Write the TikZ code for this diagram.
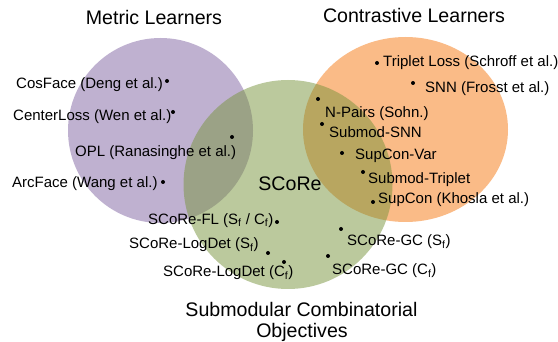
\documentclass[tikz,border=0pt]{standalone}
\usepackage{fontspec}
\setmainfont{Liberation Sans}
\definecolor{vpurple}{RGB}{128,100,162}
\definecolor{vorange}{RGB}{247,150,70}
\definecolor{vgreen}{RGB}{119,147,60}
\tikzset{
  setfill/.style={draw=none},
  lbl/.style={anchor=base west, inner sep=0pt, font=\fontsize{15}{18}\selectfont},
  ttl/.style={anchor=base, inner sep=0pt, font=\fontsize{19.6}{23}\selectfont},
  dot/.style={circle, fill=black, inner sep=0pt, minimum size=4pt},
}
\begin{document}
\begin{tikzpicture}[x=1pt,y=-1pt]
\useasboundingbox (0,0) rectangle (558,342);
% sets
\fill[vpurple, fill opacity=0.5] (160.5,130.5) circle[radius=92.5];
\fill[vorange, fill opacity=0.65] (405.5,129.5) ellipse[x radius=102.5, y radius=92.5];
\fill[vgreen, fill opacity=0.5] (288,184.5) circle[radius=104.5];
% titles
\node[ttl] (tm) at (154,25) {Metric Learners};
\node[ttl] (tc) at (414,23) {Contrastive Learners};
\node[ttl] (ts1) at (301.5,316.7) {Submodular Combinatorial};
\node[ttl] (ts2) at (302,338) {Objectives};
\node[ttl] (tsc) at (290,190.7) {SCoRe};
% metric learners
\node[lbl] (l1) at (16,88.3) {CosFace (Deng et al.)};
\node[dot] (d1) at (167,81) {};
\node[lbl] (l2) at (13,120.7) {CenterLoss (Wen et al.)};
\node[dot] (d2) at (173,112) {};
\node[lbl] (l3) at (75,156.7) {OPL (Ranasinghe et al.)};
\node[dot] (d3) at (232,137) {};
\node[lbl] (l4) at (12,187.7) {ArcFace (Wang et al.)};
\node[dot] (d4) at (163,182) {};
% contrastive learners
\node[dot] (d5) at (377,63) {};
\node[lbl] (l5) at (383,67) {Triplet Loss (Schroff et al.)};
\node[dot] (d6) at (413,83) {};
\node[lbl] (l6) at (425,92.3) {SNN (Frosst et al.)};
\node[dot] (d7) at (318,99) {};
\node[lbl] (l7) at (325,117.3) {N-Pairs (Sohn.)};
\node[dot] (d8) at (322,124) {};
\node[lbl] (l8) at (329,137.7) {Submod-SNN};
\node[dot] (d9) at (342,153) {};
\node[lbl] (l9) at (355,160) {SupCon-Var};
\node[dot] (d10) at (363,172) {};
\node[lbl] (l10) at (368,183.3) {Submod-Triplet};
\node[dot] (d11) at (373,202) {};
\node[lbl] (l11) at (378,203.3) {SupCon (Khosla et al.)};
% SCoRe
\node[lbl] (l12) at (148,224.3) {SCoRe-FL (S\textsubscript{f} / C\textsubscript{f})};
\node[dot] (d12) at (277,222) {};
\node[lbl] (l13) at (129,249) {SCoRe-LogDet (S\textsubscript{f})};
\node[dot] (d13) at (268,253) {};
\node[lbl] (l14) at (163,276.7) {SCoRe-LogDet (C\textsubscript{f})};
\node[dot] (d14) at (284,262) {};
\node[dot] (d15) at (341,229) {};
\node[lbl] (l15) at (347,245.7) {SCoRe-GC (S\textsubscript{f})};
\node[dot] (d16) at (328,256) {};
\node[lbl] (l16) at (332,275) {SCoRe-GC (C\textsubscript{f})};
\end{tikzpicture}
\end{document}
